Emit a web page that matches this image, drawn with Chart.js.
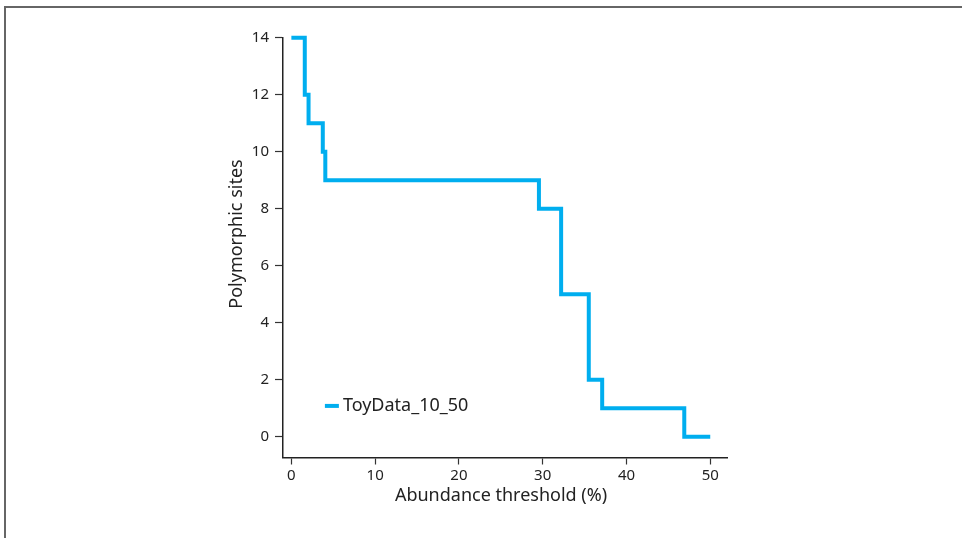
<!DOCTYPE html>
<html>
<head>
<meta charset="utf-8">
<script src="https://cdn.jsdelivr.net/npm/chart.js@4.4.1/dist/chart.umd.min.js"></script>
<style>
  html, body { margin: 0; padding: 0; background: #fff; }
  #wrap { position: relative; width: 962px; height: 538px; }
  #frame { position: absolute; left: 4px; top: 6px; width: 958px; height: 532px;
           border-top: 2px solid #666; border-left: 2px solid #666; box-sizing: border-box; pointer-events: none; }
  canvas { position: absolute; left: 0; top: 0; }
</style>
</head>
<body>
<div id="wrap">
  <canvas id="c" width="962" height="538"></canvas>
  <div id="frame"></div>
</div>
<script>
// Data (step function: threshold -> polymorphic sites)
const seriesName = "ToyData_10_50";
const thresholds = [0, 1.6, 2.05, 3.75, 4.05, 29.55, 32.2, 35.5, 37.1, 46.9, 50];
const sites      = [14, 12, 11, 10, 9, 8, 5, 2, 1, 0, 0];
const xTicks = [0, 10, 20, 30, 40, 50];
const yTicks = [0, 2, 4, 6, 8, 10, 12, 14];
const xTitle = "Abundance threshold (%)";
const yTitle = "Polymorphic sites";

const FONT = "'Noto Sans', 'Open Sans', sans-serif";
const LINE_COLOR = "#00AEEF";

const points = thresholds.map((x, i) => ({ x: x, y: sites[i] }));

const decor = {
  id: 'decor',
  afterDraw(chart) {
    const ctx = chart.ctx;
    const xs = chart.scales.x, ys = chart.scales.y;
    ctx.save();
    ctx.fillStyle = '#222';
    ctx.font = '18px ' + FONT;
    ctx.textAlign = 'center';
    ctx.textBaseline = 'middle';
    ctx.fillText(xTitle, 501, 496);
    ctx.translate(237, 234);
    ctx.rotate(-Math.PI / 2);
    ctx.fillText(yTitle, 0, 0);
    ctx.restore();
    // legend inside plot
    ctx.save();
    const lx = xs.getPixelForValue(4.0), ly = ys.getPixelForValue(1.08);
    ctx.strokeStyle = LINE_COLOR;
    ctx.lineWidth = 4;
    ctx.beginPath();
    ctx.moveTo(lx, ly);
    ctx.lineTo(lx + 14, ly);
    ctx.stroke();
    ctx.fillStyle = '#222';
    ctx.font = '18px ' + FONT;
    ctx.textAlign = 'left';
    ctx.textBaseline = 'middle';
    ctx.fillText(seriesName, lx + 18, ly);
    ctx.restore();
  }
};

new Chart(document.getElementById('c'), {
  type: 'line',
  data: {
    datasets: [{
      label: seriesName,
      data: points,
      stepped: 'before',
      borderColor: LINE_COLOR,
      backgroundColor: LINE_COLOR,
      borderWidth: 4,
      pointRadius: 0,
      fill: false,
      clip: false,
      borderCapStyle: 'butt',
      borderJoinStyle: 'miter'
    }]
  },
  options: {
    responsive: false,
    animation: false,
    layout: { padding: { left: 0, top: 37.7, right: 235, bottom: 0 } },
    plugins: { legend: { display: false }, tooltip: { enabled: false } },
    scales: {
      x: {
        type: 'linear',
        min: -1, max: 52,
        afterBuildTicks: (s) => { s.ticks = xTicks.map(v => ({ value: v })); },
        afterFit: (s) => { s.height = 80.5; },
        grid: { drawOnChartArea: false, drawTicks: true, tickLength: 7, color: '#333', tickWidth: 1.2 },
        border: { display: true, color: '#222', width: 1.5 },
        ticks: { color: '#222', font: { family: FONT, size: 15 }, padding: 2, maxRotation: 0 },
        title: { display: false }
      },
      y: {
        type: 'linear',
        min: -0.73, max: 14,
        afterBuildTicks: (s) => { s.ticks = yTicks.map(v => ({ value: v })); },
        afterFit: (s) => { s.width = 283; },
        grid: { drawOnChartArea: false, drawTicks: true, tickLength: 8, color: '#333', tickWidth: 1.2 },
        border: { display: true, color: '#222', width: 1.5 },
        ticks: { color: '#222', font: { family: FONT, size: 15 }, padding: 6 },
        title: { display: false }
      }
    }
  },
  plugins: [decor]
});
</script>
</body>
</html>
